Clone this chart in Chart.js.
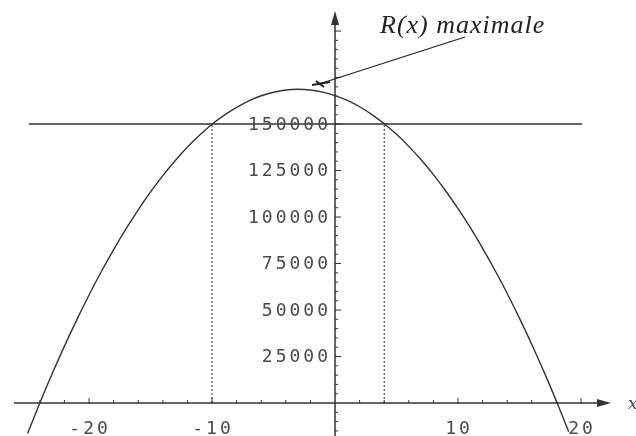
<!DOCTYPE html>
<html>
<head>
<meta charset="utf-8">
<script src="https://cdn.jsdelivr.net/npm/chart.js@4/dist/chart.umd.min.js"></script>
<style>
  html, body { margin: 0; padding: 0; background: #fff; }
  #wrap { width: 636px; height: 436px; }
</style>
</head>
<body>
<div id="wrap"><canvas id="revenuChart" width="636" height="436"></canvas></div>
<script>
// values
const xValues = [-25, -24, -23, -22, -21, -20, -19, -18, -17, -16, -15, -14, -13, -12, -11, -10,
  -9, -8, -7, -6, -5, -4, -3, -2, -1, 0, 1, 2, 3, 4, 5, 6, 7, 8, 9, 10,
  11, 12, 13, 14, 15, 16, 17, 18, 19];
const rValues = [-16400, 0, 15700, 30600, 44700, 58100, 70700, 82500, 93600, 103900, 113500, 122300, 130300, 137600, 144100, 149900,
  154800, 159000, 162500, 165200, 167100, 168300, 168700, 168300, 167200, 165300, 162700, 159300, 155100, 150200, 144500, 138000, 130800, 122800, 114000, 104500,
  94300, 83200, 71400, 58900, 45500, 31500, 16600, 1000, -15400];
const seuil = 150000;
const seuilRange = [-24.9, 20.1];
const intersections = [-10, 4];
const xTicks = [-20, -10, 10, 20];
const yTicks = [25000, 50000, 75000, 100000, 125000, 150000];

const ink = '#333';
const curve = xValues.map((x, i) => ({ x: x, y: rValues[i] }));

const datasets = [
  { data: curve, borderColor: ink, borderWidth: 1.4, pointRadius: 0, tension: 0.4 },
  { data: seuilRange.map(x => ({ x: x, y: seuil })), borderColor: ink, borderWidth: 1.4, pointRadius: 0 }
];
intersections.forEach(x => {
  datasets.push({ data: [{ x: x, y: 0 }, { x: x, y: seuil }], borderColor: '#444', borderWidth: 1.2,
    borderDash: [2, 2], pointRadius: 0 });
});

// axes through the origin, ticks, labels and the note
const axesPlugin = {
  id: 'axes',
  afterDatasetsDraw(chart) {
    const ctx = chart.ctx;
    const xs = chart.scales.x, ys = chart.scales.y;
    const x0 = xs.getPixelForValue(0), y0 = ys.getPixelForValue(0);
    ctx.save();
    ctx.strokeStyle = ink;
    ctx.fillStyle = ink;
    ctx.lineWidth = 1.5;
    // x axis
    ctx.beginPath();
    ctx.moveTo(14, y0); ctx.lineTo(600, y0); ctx.stroke();
    ctx.beginPath();
    ctx.moveTo(611, y0); ctx.lineTo(597, y0 - 4); ctx.lineTo(597, y0 + 4); ctx.closePath(); ctx.fill();
    // y axis
    ctx.beginPath();
    ctx.moveTo(x0, 436); ctx.lineTo(x0, 22); ctx.stroke();
    ctx.beginPath();
    ctx.moveTo(x0, 11); ctx.lineTo(x0 - 4, 25); ctx.lineTo(x0 + 4, 25); ctx.closePath(); ctx.fill();

    // x ticks
    ctx.lineWidth = 1;
    for (let v = -24; v <= 20; v += 2) {
      if (v === 0) continue;
      const px = xs.getPixelForValue(v);
      const major = v % 10 === 0;
      ctx.beginPath();
      ctx.moveTo(px, y0 - (major ? 5 : 3)); ctx.lineTo(px, y0 + (major ? 1 : 0)); ctx.stroke();
    }
    // y ticks
    for (let v = -15000; v <= 205000; v += 5000) {
      if (v === 0) continue;
      const py = ys.getPixelForValue(v);
      const major = v % 25000 === 0;
      ctx.beginPath();
      ctx.moveTo(x0, py); ctx.lineTo(x0 + (major ? 6 : 3), py); ctx.stroke();
    }

    // tick labels
    ctx.fillStyle = '#4a4a4a';
    ctx.font = '18px "DejaVu Sans Mono"';
    ctx.letterSpacing = '3px';
    ctx.textBaseline = 'middle';
    ctx.textAlign = 'right';
    yTicks.forEach(v => {
      ctx.fillText(String(v), x0 - 4, ys.getPixelForValue(v) + 1);
    });
    ctx.textAlign = 'center';
    xTicks.forEach(v => {
      ctx.fillText(String(v), xs.getPixelForValue(v) + 1, y0 + 26);
    });
    ctx.letterSpacing = '0px';
    ctx.font = 'italic 17px "DejaVu Serif"';
    ctx.textAlign = 'left';
    ctx.fillText('x', 628, y0 + 2);

    // note on the maximum
    ctx.fillStyle = '#222';
    ctx.font = 'italic 26px "Liberation Serif"';
    ctx.textAlign = 'left';
    ctx.textBaseline = 'alphabetic';
    ctx.letterSpacing = '1px';
    ctx.fillText('R(x) maximale', 380, 33);
    ctx.letterSpacing = '0px';
    ctx.strokeStyle = '#222';
    ctx.lineWidth = 1.3;
    ctx.beginPath();
    ctx.moveTo(465, 37); ctx.lineTo(319, 84); ctx.stroke();
    ctx.lineWidth = 2;
    ctx.beginPath();
    ctx.moveTo(312, 85); ctx.lineTo(330, 82); ctx.moveTo(316, 81); ctx.lineTo(324, 87); ctx.stroke();
    ctx.restore();
  }
};

window.addEventListener('DOMContentLoaded', () => {
  new Chart(document.getElementById('revenuChart'), {
    type: 'line',
    data: { datasets: datasets },
    options: {
      responsive: false,
      animation: false,
      layout: { padding: 0 },
      plugins: { legend: { display: false }, tooltip: { enabled: false } },
      scales: {
        x: { type: 'linear', display: false, min: -27.24, max: 24.47 },
        y: { type: 'linear', display: false, min: -17740, max: 216700 }
      }
    },
    plugins: [axesPlugin]
  });
});
</script>
</body>
</html>
